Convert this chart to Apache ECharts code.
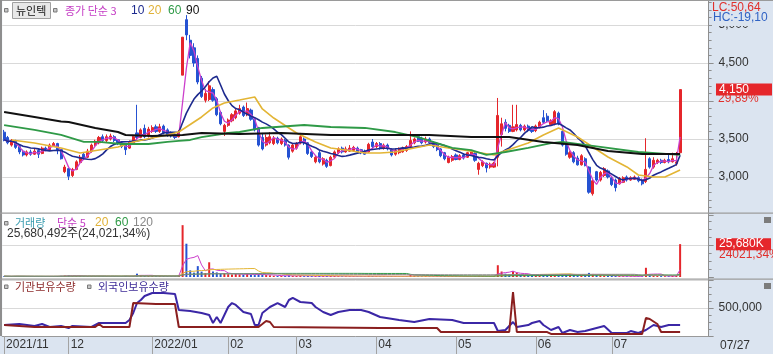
<!DOCTYPE html>
<html><head><meta charset="utf-8">
<script src="https://cdn.jsdelivr.net/npm/echarts@6/dist/echarts.min.js"></script>
<style>html,body{margin:0;padding:0;background:#fff}#c{width:773px;height:354px}</style>
</head><body><div id="c"></div>
<script>
// ---- trading days (categories) ----
const nov21=[8,9,10,11,12,15,16,17,18,19,22,23,24,25,26,29,30];
const dec21=[1,2,3,6,7,8,9,10,13,14,15,16,17,20,21,22,23,24,27,28,29,30];
const jan22=[3,4,5,6,7,10,11,12,13,14,17,18,19,20,21,24,25,26,27,28];
const feb22=[3,4,7,8,9,10,11,14,15,16,17,18,21,22,23,24,25,28];
const mar22=[2,3,4,7,8,10,11,14,15,16,17,18,21,22,23,24,25,28,29,30,31];
const apr22=[1,4,5,6,7,8,11,12,13,14,15,18,19,20,21,22,25,26,27,28,29];
const may22=[2,3,4,6,9,10,11,12,13,16,17,18,19,20,23,24,25,26,27,30,31];
const jun22=[2,3,7,8,9,10,13,14,15,16,17,20,21,22,23,24,27,28,29,30];
const jul22=[1,4,5,6,7,8,11,12,13,14,15,18,19,20,21,22,25,26,27];
const monthKeys=['2021/11','2021/12','2022/01','2022/02','2022/03','2022/04','2022/05','2022/06','2022/07'];
const monthLabels=['2021/11','12','2022/01','02','03','04','05','06','07'];
const emptySlots=7;

// ---- price (OHLC) ----
const opens=[3590,3520,3420,3470,3400,3340,3290,3330,3300,3350,3310,3380,3360,3410,3440,3360,3070,
3110,3020,3100,3190,3300,3260,3340,3420,3450,3530,3480,3500,3530,3490,3450,3420,3380,3450,3580,3520,3640,3540,
3600,3660,3600,3670,3620,3580,3560,3530,4340,5070,4800,4700,4560,4300,4010,4020,4150,4030,3850,3600,
3680,3740,3780,3840,3920,3820,3880,3760,3650,3520,3420,3450,3440,3510,3440,3480,3420,3340,
3380,3450,3500,3450,3330,3200,3320,3170,3220,3150,3260,3320,3380,3330,3340,3350,3380,3360,3340,3330,3460,
3400,3440,3380,3420,3360,3300,3320,3330,3350,3400,3450,3530,3510,3460,3500,3450,3420,3370,3320,3190,3220,
3290,3230,3290,3260,3290,3310,3100,3150,3180,3130,3130,3260,3560,3720,3680,3600,3620,3680,3620,3670,3640,
3610,3660,3780,3800,3690,3700,3840,3600,3420,3260,3320,3250,3160,3240,3130,2780,3070,2960,3020,3080,
2990,2960,2910,2930,3000,2960,2970,2990,2960,2940,3240,3130,3190,3220,3190,3230,3200,3180,3320];
const closes=[3490,3450,3480,3390,3330,3290,3330,3300,3340,3300,3380,3360,3420,3440,3360,3240,3130,
3010,3100,3200,3260,3250,3340,3420,3470,3520,3480,3530,3540,3480,3440,3400,3360,3460,3530,3520,3620,3530,3630,
3650,3600,3660,3580,3550,3540,3520,3590,4840,4870,4600,4500,4250,4060,4100,4200,4010,3820,3700,3680,
3750,3820,3870,3900,3810,3900,3760,3620,3420,3370,3520,3530,3510,3450,3500,3420,3260,3420,
3440,3530,3450,3310,3270,3260,3200,3240,3140,3260,3330,3370,3330,3370,3380,3390,3330,3320,3300,3430,3400,
3440,3380,3420,3370,3290,3350,3370,3380,3400,3480,3500,3470,3450,3500,3450,3400,3360,3280,3240,3260,3270,
3230,3280,3250,3320,3330,3220,3180,3200,3120,3170,3180,3810,3700,3640,3600,3660,3690,3620,3670,3610,3600,
3670,3720,3720,3740,3740,3860,3700,3420,3300,3320,3200,3160,3280,3150,2800,2950,2960,3060,3110,3000,
2900,2860,2980,2990,2960,2990,3000,2950,2910,3100,3130,3220,3220,3190,3220,3200,3240,3195,4150];
const lows=[3470,3430,3400,3370,3300,3270,3270,3280,3290,3250,3300,3340,3350,3400,3300,3230,3050,
2960,3000,3090,3170,3230,3250,3320,3400,3430,3460,3460,3480,3460,3420,3380,3290,3370,3430,3500,3510,3510,3520,
3580,3580,3580,3560,3530,3520,3500,3520,4340,4800,4560,4450,4220,4040,3980,4000,3990,3800,3680,3540,
3660,3720,3760,3820,3790,3800,3740,3600,3400,3350,3400,3430,3420,3430,3420,3400,3230,3320,
3360,3430,3420,3290,3250,3180,3180,3150,3120,3140,3250,3300,3310,3320,3330,3330,3310,3300,3290,3320,3380,
3380,3360,3360,3350,3270,3280,3300,3320,3330,3390,3430,3460,3430,3440,3430,3380,3340,3260,3220,3180,3200,
3220,3220,3230,3250,3280,3200,3030,3130,3060,3110,3120,3140,3400,3600,3580,3590,3600,3600,3600,3590,3580,
3590,3640,3700,3720,3670,3680,3680,3400,3280,3240,3180,3150,3150,3140,2780,2755,2940,2940,3000,2980,
2880,2810,2900,2920,2940,2950,2960,2930,2890,2920,3110,3110,3170,3170,3180,3180,3190,3150,3300];
const highs=[3620,3540,3500,3490,3420,3360,3350,3360,3380,3370,3400,3400,3440,3460,3450,3370,3160,
3120,3120,3220,3290,3320,3370,3440,3490,3540,3560,3560,3570,3550,3500,3470,3440,3480,3550,3950,3640,3690,3660,
3680,3690,3700,3690,3640,3600,3580,3620,4840,5130,4870,4760,4600,4330,4160,4260,4180,4050,3870,3700,
3770,3840,3900,3950,3940,3980,3900,3780,3660,3580,3560,3590,3540,3530,3520,3500,3430,3440,
3460,3580,3520,3460,3350,3280,3350,3260,3240,3280,3350,3390,3400,3400,3420,3410,3400,3370,3360,3450,3500,
3460,3460,3440,3440,3380,3370,3390,3400,3420,3600,3520,3550,3530,3530,3520,3470,3440,3380,3330,3280,3290,
3310,3300,3310,3330,3350,3330,3200,3220,3190,3190,3200,4040,3780,3760,3700,3950,3950,3700,3690,3690,3660,
3690,3740,3880,3840,3760,3880,3860,3620,3440,3340,3340,3280,3300,3260,3140,2970,3080,3080,3130,3100,
3000,2980,3000,3010,3020,3010,3020,3010,2980,3510,3260,3260,3240,3240,3240,3290,3320,3330,4150];

// ---- moving averages: [day index, price] ----
const ma20Pts=[[2,3487],[8,3447],[15,3382],[20,3316],[25,3355],[30,3395],[34,3461],[39,3513],[43,3553],[46,3592],
[48,3658],[52,3790],[55,3908],[58,3974],[62,4013],[66,4053],[68,3895],[71,3776],[73,3711],[77,3579],[82,3461],
[86,3382],[90,3355],[95,3316],[99,3316],[103,3329],[108,3382],[112,3421],[117,3382],[121,3355],[124,3329],
[129,3290],[131,3329],[138,3447],[142,3553],[146,3645],[151,3526],[155,3395],[159,3263],[164,3132],[167,3026],
[171,3000],[174,3000],[178,3092]];
const ma60Pts=[[0,3684],[8,3619],[15,3553],[21,3461],[25,3461],[31,3434],[38,3434],[43,3461],[46,3474],[49,3487],
[52,3526],[59,3579],[62,3592],[68,3645],[79,3684],[86,3658],[95,3645],[103,3592],[109,3526],[114,3447],[118,3382],
[123,3355],[127,3290],[132,3329],[138,3382],[144,3447],[147,3461],[157,3395],[167,3329],[178,3290]];
const ma90Pts=[[0,3855],[8,3790],[15,3730],[17,3724],[24,3645],[30,3592],[32,3553],[39,3540],[47,3553],[52,3579],
[62,3566],[73,3579],[86,3553],[103,3553],[112,3553],[123,3526],[133,3526],[142,3461],[151,3421],[159,3342],
[168,3303],[178,3303]];

// ---- volume (thousand shares) ----
const volumes=[620,540,480,700,650,520,430,460,500,610,480,420,560,450,720,900,1100,
1200,850,780,820,600,700,820,650,720,560,520,480,600,550,520,880,640,780,2600,1400,900,850,
760,650,820,700,600,540,520,1600,40500,26000,5200,3400,8500,4200,3000,11500,4300,3600,2600,3000,
2200,2000,2400,2100,1800,2600,1700,1500,2300,1900,1500,1300,1000,900,800,850,1300,900,
800,1100,700,850,750,680,820,700,760,900,820,700,620,580,600,560,520,500,480,900,700,
600,540,520,500,620,480,460,500,520,1600,900,700,600,620,580,560,600,750,700,620,560,
520,500,480,560,520,620,900,700,650,560,520,9200,4300,2600,2200,4600,3400,1800,1500,1300,1100,
1200,1300,2000,1600,1200,2200,1800,2400,2000,1500,1700,1400,1300,1500,3200,2400,1600,1300,1100,900,
800,900,700,600,560,520,500,540,620,7200,1800,1100,800,700,620,650,800,900,25680];

// ---- holdings (shares): [day index, value] ----
const foreignPts=[[0,196000],[4,214000],[8,179000],[10,214000],[12,161000],[15,179000],[17,143000],[18,179000],
[23,161000],[25,232000],[32,232000],[33,286000],[34,411000],[35,589000],[36,643000],[37,714000],[39,768000],
[42,768000],[45,750000],[46,464000],[49,446000],[52,411000],[54,375000],[55,232000],[56,339000],[57,232000],
[59,518000],[60,589000],[61,554000],[63,429000],[65,393000],[66,196000],[67,196000],[68,411000],[70,518000],
[72,589000],[74,518000],[75,643000],[76,679000],[78,607000],[81,589000],[82,518000],[84,429000],[86,375000],
[88,429000],[91,464000],[94,464000],[96,429000],[99,339000],[104,286000],[108,250000],[112,304000],[118,286000],
[121,232000],[125,232000],[129,232000],[130,89000],[132,107000],[134,250000],[135,161000],[138,196000],
[139,232000],[141,268000],[142,196000],[144,107000],[146,161000],[147,54000],[149,107000],[151,71000],
[153,89000],[156,143000],[158,179000],[160,54000],[164,54000],[165,89000],[167,54000],[169,107000],
[171,196000],[173,161000],[175,196000],[178,196000]];
const instPts=[[0,196000],[4,179000],[8,161000],[15,161000],[24,161000],[25,214000],[26,161000],[33,161000],
[34,589000],[40,571000],[45,571000],[46,161000],[67,161000],[68,214000],[69,268000],[70,250000],[71,161000],
[99,143000],[114,143000],[115,71000],[133,71000],[134,786000],[135,71000],[143,71000],[144,36000],[168,36000],
[169,321000],[170,304000],[172,214000],[173,71000],[178,71000]];
const holdLabelValues=[500000];

// ---- texts ----
const stockName='뉴인텍';
const lcText='LC:50,64', hcText='HC:-19,10';
const priceTag='4,150', changeTag='29,89%';
const volTag='25,680K', volPctTag='24021,34%';
const volInfo='25,680,492주(24,021,34%)';
const lastDateLabel='07/27';

// ---- build categories ----
const monthDays=[nov21,dec21,jan22,feb22,mar22,apr22,may22,jun22,jul22];
const categories=[]; const monthStart={};
monthDays.forEach((days,m)=>{ monthStart[categories.length]=monthLabels[m];
  days.forEach(d=>categories.push(monthKeys[m]+'/'+String(d).padStart(2,'0'))); });
for(let k=0;k<emptySlots;k++) categories.push('');

function sma(arr,n){return arr.map((v,i)=>{const s=arr.slice(Math.max(0,i-n+1),i+1);return +(s.reduce((a,b)=>a+b,0)/s.length).toFixed(1);});}
const candle=opens.map((o,i)=>[o,closes[i],lows[i],highs[i]]);

const RED='#e5262b', BLUE='#2552d2';
const NUM="'Liberation Sans Narrow','Liberation Sans','Noto Sans CJK KR',sans-serif";
const KR="'Noto Sans CJK KR',sans-serif";
const STRIP='#dbe4f0';
const PL=2.2, PR=64.4;

const chart=echarts.init(document.getElementById('c'),null,{renderer:'canvas',width:773,height:354});
const gridBase={left:PL,right:PR,show:true,backgroundColor:'#fff',borderWidth:0,containLabel:false,outerBoundsMode:'none'};
const yBase={type:'value',position:'right',scale:false,
  axisLine:{show:true,lineStyle:{color:'#8f8f8f'}},
  axisTick:{show:true,length:5,lineStyle:{color:'#8f8f8f'}},
  minorTick:{show:true,length:3,splitNumber:4,lineStyle:{color:'#8f8f8f'}},
  splitLine:{show:true,showMinLine:false,showMaxLine:false,lineStyle:{color:'#d9d9d9'}},
  axisLabel:{show:false}};
const lineS=(name,data,color,w,xi,yi)=>({name,type:'line',data,xAxisIndex:xi,yAxisIndex:yi,symbol:'none',
  lineStyle:{color,width:w},itemStyle:{color},silent:true});

chart.setOption({
  animation:false,backgroundColor:STRIP,
  grid:[Object.assign({top:0,height:215},gridBase),Object.assign({top:213,height:64},gridBase),Object.assign({top:277,height:59},gridBase)],
  xAxis:[
    {type:'category',data:categories,gridIndex:0,show:false},
    {type:'category',data:categories,gridIndex:1,show:false},
    {type:'category',data:categories,gridIndex:2,
     axisLine:{show:true,lineStyle:{color:'#9a9a9a'}},
     axisTick:{show:true,alignWithLabel:true,length:18,interval:(i)=>monthStart[i]!==undefined,lineStyle:{color:'#a3a3a3'}},
     splitLine:{show:false},
     axisLabel:{show:true,interval:(i)=>monthStart[i]!==undefined,formatter:(v,i)=>monthStart[i]||'',
       align:'left',padding:[0,0,0,2],margin:3,color:'#333',fontSize:12,fontFamily:NUM}}
  ],
  yAxis:[
    Object.assign({},yBase,{gridIndex:0,min:2500,max:5329,interval:500,minorTick:{show:true,length:3,splitNumber:5,lineStyle:{color:'#8f8f8f'}},
      axisLabel:{show:true,margin:10,color:'#333',fontSize:12,fontFamily:NUM,showMinLabel:false,showMaxLabel:false,
        formatter:v=>v===4000?'':v.toLocaleString('en-US')}}),
    Object.assign({},yBase,{gridIndex:1,min:0,max:50000,interval:25000}),
    Object.assign({},yBase,{gridIndex:2,min:0,max:1053571,interval:500000,
      axisLabel:{show:true,margin:10,color:'#333',fontSize:12,fontFamily:NUM,showMinLabel:false,showMaxLabel:false,
        formatter:v=>holdLabelValues.includes(v)?v.toLocaleString('en-US'):''}})
  ],
  series:[
    {type:'candlestick',data:candle,xAxisIndex:0,yAxisIndex:0,barWidth:2.6,
     itemStyle:{color:RED,color0:BLUE,borderColor:RED,borderColor0:BLUE,borderWidth:1}},
    lineS('MA3',sma(closes,3),'#cc3fcc',1.3,0,0),
    lineS('MA10',sma(closes,10),'#1d2a8e',1.6,0,0),
    lineS('MA20',ma20Pts,'#e3b535',1.6,0,0),
    lineS('MA60',ma60Pts,'#2f9a47',1.8,0,0),
    lineS('MA90',ma90Pts,'#111111',2,0,0),
    {type:'bar',data:volumes,xAxisIndex:1,yAxisIndex:1,barWidth:2,
     itemStyle:{color:p=>closes[p.dataIndex]>=opens[p.dataIndex]?RED:BLUE}},
    lineS('V5',sma(volumes,5),'#cc3fcc',1,1,1),
    lineS('V20',sma(volumes,20),'#e3b535',1,1,1),
    lineS('V60',sma(volumes,60),'#2f9a47',1,1,1),
    lineS('V120',sma(volumes,120),'#8a8a8a',1,1,1),
    lineS('foreign',foreignPts,'#3b27a6',2,2,2),
    lineS('inst',instPts,'#8a1f1f',2,2,2)
  ]
});

const yPrice=chart.convertToPixel({yAxisIndex:0},closes[closes.length-1]);
const yVol=chart.convertToPixel({yAxisIndex:1},volumes[volumes.length-1]);
const T=(text,x,y,fill,font,extra,z)=>({type:'text',z:z||100,style:Object.assign({text,x,y,fill,font,align:'left',verticalAlign:'middle',textAlign:'left',textVerticalAlign:'middle'},extra||{})});
const R=(x,y,w,h,fill,stroke)=>({type:'rect',z:100,shape:{x,y,width:w,height:h},style:{fill,stroke:stroke||null,lineWidth:1}});
chart.setOption({graphic:[
  R(0,0,773,1,'#9a9a9a'),R(0,0,2,336,'#8e8e8e'),
  R(0,212.5,773,1.2,'#9c9c9c'),R(0,278.5,773,1.2,'#9c9c9c'),
  // price legend
  R(4.5,8.5,3.5,3.5,'#c8c8c8','#7a7a7a'),
  R(12.5,2.5,38,16,'#e8e8e8','#a0a0a0'),
  T(stockName,16,10.5,'#111','11px '+KR),
  R(53.5,8.5,3.5,3.5,'#c8c8c8','#7a7a7a'),
  T('종가 단순 3',65,10.5,'#c43cc4','11px '+KR),
  T('10',131,10.5,'#1d2a8e','12px '+NUM),
  T('20',148,10.5,'#e0b238','12px '+NUM),
  T('60',168,10.5,'#2f9a47','12px '+NUM),
  T('90',186,10.5,'#111','12px '+NUM),
  // volume legend
  R(4.5,221.5,3.5,3.5,'#c8c8c8','#7a7a7a'),
  T('거래량',15,223,'#3b9db0','11px '+KR),
  T('단순 5',57,223,'#c43cc4','11px '+KR),
  T('20',95,223,'#e0b238','12px '+NUM),
  T('60',115,223,'#2f9a47','12px '+NUM),
  T('120',133,223,'#888','12px '+NUM),
  T(volInfo,7,234,'#333','12px '+NUM),
  // holdings legend
  R(4.5,285,3.5,3.5,'#c8c8c8','#7a7a7a'),
  T('기관보유수량',15,287,'#8c2a2a','11px '+KR),
  R(87.5,285,3.5,3.5,'#c8c8c8','#7a7a7a'),
  T('외국인보유수량',98,287,'#3c2a96','11px '+KR),
  // right strip
  T(hcText,712,18,'#2f62c4','12px '+NUM,{backgroundColor:STRIP,padding:[0,20,4,1]},100),
  T(lcText,712,7.5,'#e0302c','12px '+NUM,null,110),
  R(716,yPrice-6,56,12,'#e5262b'),
  T(priceTag,719,yPrice,'#fff','12px '+NUM),
  T(changeTag,718,yPrice+9,'#e0302c','12px '+NUM),
  R(716,yVol-6,55,12,'#e5262b'),
  T(volTag,719,yVol,'#fff','12px '+NUM),
  T(volPctTag,719,yVol+11,'#e0302c','12px '+NUM),
  R(764,217,7,6,'#7c7c7c'),R(764,283,7,6,'#7c7c7c'),
  T(lastDateLabel,720,346,'#333','12px '+NUM)
]});
</script></body></html>
